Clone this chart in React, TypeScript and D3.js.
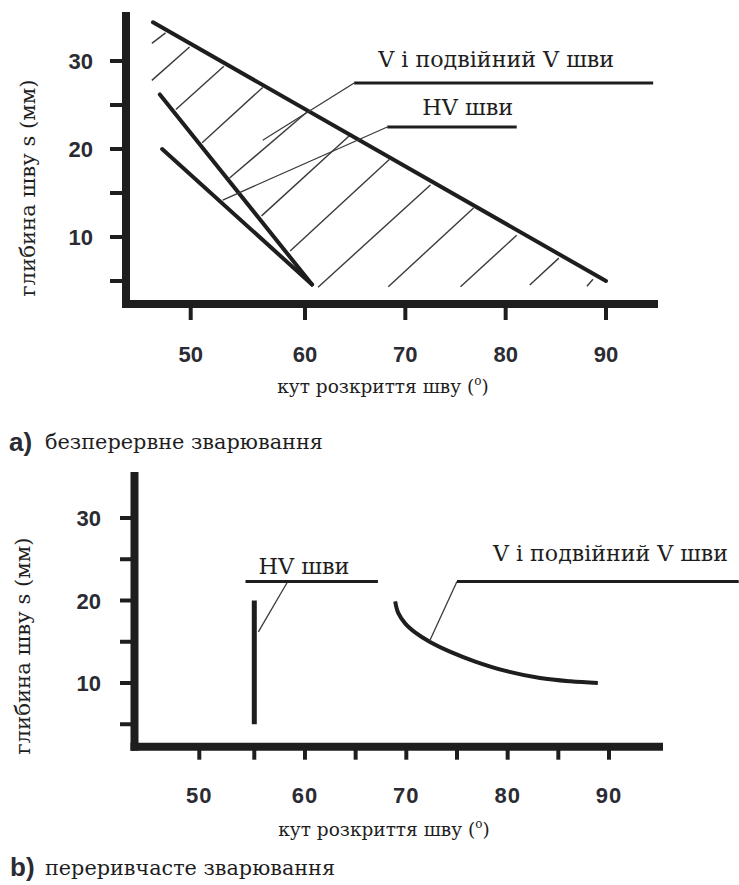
import React from "react";
import * as d3 from "d3";

// ---------- shared ticks ----------
const yTickValues = [5, 10, 15, 20, 25, 30];
const yTickLabels = [10, 20, 30];
const xTickValuesA = [50, 60, 70, 80, 90];
const xTickValuesB = [50, 55, 60, 65, 70, 75, 80, 85, 90];
const xTickLabels = [50, 60, 70, 80, 90];

// ---------- chart a: continuous welding ----------
const vLineAngle = [46.7, 90];
const vLineDepth = [34.4, 5];
const hvUpperAngle = [47.3, 60.7];
const hvUpperDepth = [26.2, 4.6];
const hvLowerAngle = [47.5, 60.7];
const hvLowerDepth = [20, 4.6];

// hatching of the V-weld region (start / end of each stroke)
const hatchAngle1 = [46.6, 46.6, 48.7, 51.0, 53.4, 56.2, 58.7, 61.3, 68.3, 75.5, 82.4, 88.1];
const hatchDepth1 = [32.0, 27.8, 24.5, 20.7, 16.7, 12.4, 8.4, 4.3, 4.35, 4.35, 4.55, 4.4];
const hatchAngle2 = [47.8, 49.9, 52.9, 56.3, 60.2, 64.5, 68.4, 72.5, 76.8, 81.1, 85.3, 88.7];
const hatchDepth2 = [33.2, 31.6, 29.4, 27.0, 24.2, 21.6, 18.8, 15.9, 13.3, 10.2, 7.6, 5.2];

// leaders a: [point on series, elbow, end of shelf]
const vLeaderAngleA = [56.3, 64.9, 94.7];
const vLeaderDepthA = [21.0, 27.5, 27.5];
const hvLeaderAngleA = [52.8, 68.2, 81.1];
const hvLeaderDepthA = [14.2, 22.5, 22.5];

// ---------- chart b: intermittent welding ----------
const hvBarAngle = [55, 55];
const hvBarDepth = [5, 20];
const vCurveAngle = [68.9, 69.2, 69.9, 70.9, 72.3, 74.3, 76.8, 79.7, 83.2, 86.2, 88.9];
const vCurveDepth = [19.9, 18.5, 17.2, 16.1, 15.0, 13.8, 12.6, 11.5, 10.6, 10.2, 10.0];

// leaders b: [point on series, elbow], shelf from/to
const hvLeaderAngleB = [55.4, 58.3];
const hvLeaderDepthB = [16.2, 22.3];
const hvShelfB = [54.2, 67.2];
const vLeaderAngleB = [72.3, 75.0];
const vLeaderDepthB = [15.1, 22.3];
const vShelfB = [75.0, 102.8];

const labelV = "V і подвійний V шви";
const labelHV = "HV шви";
const yTitle = "глибина шву s (мм)";
const xTitle = "кут розкриття шву (";
const captionA = "безперервне зварювання";
const captionB = "переривчасте зварювання";

const SERIF = "'DejaVu Serif', 'Liberation Serif', serif";
const SANS = "'Liberation Sans', Arial, sans-serif";
const INK = "#1e1e1e";
const TICKINK = "#2b2b33";

const xA = d3.scaleLinear().domain([50, 60, 90]).range([190.7, 305, 606]);
const yA = d3.scaleLinear().domain([0, 30]).range([325, 61]);
const xB = d3.scaleLinear().domain([50, 55, 90]).range([199.3, 254.3, 609]);
const yB = d3.scaleLinear().domain([0, 30]).range([765.5, 518]);

function Axes({ x, y, axisX, axisTop, axisY, xEnd, xTicks, tickLen, yTickStart, labelRight, labelBase, spacing }: any) {
  return (
    <g>
      <line x1={axisX} x2={axisX} y1={axisTop} y2={axisY + 4} stroke={INK} strokeWidth={8} />
      <line x1={axisX - 4} x2={xEnd} y1={axisY} y2={axisY} stroke={INK} strokeWidth={8} />
      {yTickValues.map((v) => (
        <line key={"yt" + v} x1={yTickStart} x2={axisX} y1={y(v)} y2={y(v)} stroke={INK} strokeWidth={4} />
      ))}
      {yTickLabels.map((v) => (
        <text key={"yl" + v} x={labelRight} y={y(v) + 8} textAnchor="end" fontFamily={SANS} fontWeight="bold" fontSize={22} fill={TICKINK}>
          {v}
        </text>
      ))}
      {xTicks.map((v: number) => (
        <line key={"xt" + v} x1={x(v)} x2={x(v)} y1={axisY} y2={axisY + tickLen} stroke={INK} strokeWidth={4} />
      ))}
      {xTickLabels.map((v) => (
        <text key={"xl" + v} x={x(v)} y={labelBase} textAnchor="middle" fontFamily={SANS} fontWeight="bold" fontSize={22} fill={TICKINK} letterSpacing={spacing}>
          {v}
        </text>
      ))}
    </g>
  );
}

function XTitle({ cx, base }: any) {
  return (
    <text x={cx} y={base} textAnchor="middle" fontFamily={SERIF} fill={INK} fontSize={18.5}>
      {xTitle}
      <tspan fontSize={12} dy={-8}>o</tspan>
      <tspan dy={8}>)</tspan>
    </text>
  );
}

export default function App() {
  const line = (xs: any, ys: any) =>
    d3.line<[number, number]>().x((d) => xs(d[0])).y((d) => ys(d[1]));
  const pts = (a: number[], b: number[]) => a.map((v, i) => [v, b[i]] as [number, number]);

  const lineA = line(xA, yA);
  const lineB = line(xB, yB);
  const curveB = d3
    .line<[number, number]>()
    .x((d) => xB(d[0]))
    .y((d) => yB(d[1]))
    .curve(d3.curveCatmullRom.alpha(0.5));

  return (
    <svg width={739} height={885} style={{ position: "absolute", left: 0, top: 0, display: "block", background: "#fff" }}>
      {/* ================= chart a ================= */}
      <g>
        {hatchAngle1.map((a, i) => (
          <line
            key={"h" + i}
            x1={xA(a)}
            y1={yA(hatchDepth1[i])}
            x2={xA(hatchAngle2[i])}
            y2={yA(hatchDepth2[i])}
            stroke="#3a3a3a"
            strokeWidth={1.4}
          />
        ))}
        <path d={lineA(pts(vLineAngle, vLineDepth)) || ""} stroke={INK} strokeWidth={4} fill="none" strokeLinecap="round" />
        <path d={lineA(pts(hvUpperAngle, hvUpperDepth)) || ""} stroke={INK} strokeWidth={4} fill="none" strokeLinecap="round" />
        <path d={lineA(pts(hvLowerAngle, hvLowerDepth)) || ""} stroke={INK} strokeWidth={4} fill="none" strokeLinecap="round" />

        <line x1={xA(vLeaderAngleA[0])} y1={yA(vLeaderDepthA[0])} x2={xA(vLeaderAngleA[1])} y2={yA(vLeaderDepthA[1])} stroke="#3a3a3a" strokeWidth={1.3} />
        <line x1={xA(vLeaderAngleA[1])} y1={yA(vLeaderDepthA[1])} x2={xA(vLeaderAngleA[2])} y2={yA(vLeaderDepthA[2])} stroke={INK} strokeWidth={3} />
        <line x1={xA(hvLeaderAngleA[0])} y1={yA(hvLeaderDepthA[0])} x2={xA(hvLeaderAngleA[1])} y2={yA(hvLeaderDepthA[1])} stroke="#3a3a3a" strokeWidth={1.3} />
        <line x1={xA(hvLeaderAngleA[1])} y1={yA(hvLeaderDepthA[1])} x2={xA(hvLeaderAngleA[2])} y2={yA(hvLeaderDepthA[2])} stroke={INK} strokeWidth={3} />
        <text x={xA(vLeaderAngleA[1]) + 24} y={yA(vLeaderDepthA[1]) - 16} fontFamily={SERIF} fontSize={23} fill={INK} textLength={236} lengthAdjust="spacingAndGlyphs">
          {labelV}
        </text>
        <text x={xA(hvLeaderAngleA[1]) + 35} y={yA(hvLeaderDepthA[1]) - 12} fontFamily={SERIF} fontSize={23} fill={INK} textLength={91} lengthAdjust="spacingAndGlyphs">
          {labelHV}
        </text>

        <Axes x={xA} y={yA} axisX={126} axisTop={12} axisY={304} xEnd={658} xTicks={xTickValuesA} tickLen={16} yTickStart={110} labelRight={93} labelBase={362} spacing={0} />
        <text transform="translate(35,188) rotate(-90)" textAnchor="middle" fontFamily={SERIF} fontSize={20} fill={INK} textLength={217} lengthAdjust="spacingAndGlyphs">
          {yTitle}
        </text>
        <XTitle cx={383} base={393} />
        <text x={9} y={451} fontFamily={SANS} fontWeight="bold" fontSize={26} fill={TICKINK}>a)</text>
        <text x={45} y={449} fontFamily={SERIF} fontSize={21} fill={INK} textLength={278} lengthAdjust="spacingAndGlyphs">{captionA}</text>
      </g>

      {/* ================= chart b ================= */}
      <g>
        <path d={lineB(pts(hvBarAngle, hvBarDepth)) || ""} stroke={INK} strokeWidth={5} fill="none" />
        <path d={curveB(pts(vCurveAngle, vCurveDepth)) || ""} stroke={INK} strokeWidth={4} fill="none" />

        <line x1={xB(hvLeaderAngleB[0])} y1={yB(hvLeaderDepthB[0])} x2={xB(hvLeaderAngleB[1])} y2={yB(hvLeaderDepthB[1])} stroke="#3a3a3a" strokeWidth={1.3} />
        <line x1={xB(hvShelfB[0])} y1={yB(hvLeaderDepthB[1])} x2={xB(hvShelfB[1])} y2={yB(hvLeaderDepthB[1])} stroke={INK} strokeWidth={3} />
        <line x1={xB(vLeaderAngleB[0])} y1={yB(vLeaderDepthB[0])} x2={xB(vLeaderAngleB[1])} y2={yB(vLeaderDepthB[1])} stroke="#3a3a3a" strokeWidth={1.3} />
        <line x1={xB(vShelfB[0])} y1={yB(vLeaderDepthB[1])} x2={xB(vShelfB[1])} y2={yB(vLeaderDepthB[1])} stroke={INK} strokeWidth={3} />
        <text x={xB(hvShelfB[0]) + 13} y={yB(hvLeaderDepthB[1]) - 8} fontFamily={SERIF} fontSize={23} fill={INK} textLength={91} lengthAdjust="spacingAndGlyphs">
          {labelHV}
        </text>
        <text x={xB(vLeaderAngleB[1]) + 36} y={yB(vLeaderDepthB[1]) - 20.6} fontFamily={SERIF} fontSize={23} fill={INK} textLength={235} lengthAdjust="spacingAndGlyphs">
          {labelV}
        </text>

        <Axes x={xB} y={yB} axisX={134.5} axisTop={472} axisY={746.7} xEnd={663} xTicks={xTickValuesB} tickLen={13} yTickStart={120} labelRight={101} labelBase={803} spacing={1} />
        <text transform="translate(30,646) rotate(-90)" textAnchor="middle" fontFamily={SERIF} fontSize={20} fill={INK} textLength={217} lengthAdjust="spacingAndGlyphs">
          {yTitle}
        </text>
        <XTitle cx={384} base={836} />
        <text x={10} y={876} fontFamily={SANS} fontWeight="bold" fontSize={26} fill={TICKINK}>b)</text>
        <text x={45} y={875} fontFamily={SERIF} fontSize={21} fill={INK} textLength={290} lengthAdjust="spacingAndGlyphs">{captionB}</text>
      </g>
    </svg>
  );
}
